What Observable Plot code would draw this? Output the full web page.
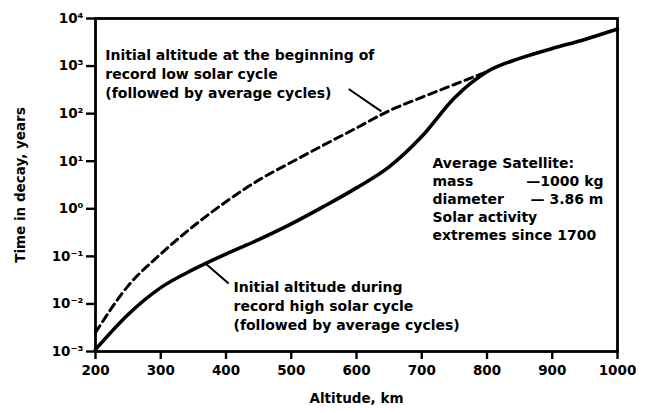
<!DOCTYPE html>
<html>
<head>
<meta charset="utf-8">
<script src="https://cdn.jsdelivr.net/npm/d3@7"></script>
<script src="https://cdn.jsdelivr.net/npm/@observablehq/plot@0.6"></script>
<style>
  html, body { margin: 0; padding: 0; background: #fff; }
  #chart { width: 646px; height: 413px; }
</style>
</head>
<body>
<div id="chart"></div>
<script>
// Solid curve: initial altitude during record high solar cycle
const highAltitudes = [200, 250, 300, 350, 400, 450, 500, 550, 600, 650, 700, 750, 800, 850, 900, 950, 1000];
const highSolarYears = [0.0011, 0.006, 0.022, 0.053, 0.112, 0.224, 0.48, 1.12, 2.75, 7.6, 33, 214, 760, 1450, 2340, 3630, 6000];

// Dashed curve: initial altitude at beginning of record low solar cycle (joins solid near 800 km)
const lowAltitudes = [200, 250, 300, 350, 400, 450, 500, 550, 600, 650, 700, 750, 800];
const lowSolarYears = [0.0025, 0.024, 0.112, 0.43, 1.41, 4.0, 9.5, 22, 50, 115, 220, 410, 760];

const xTicks = [200, 300, 400, 500, 600, 700, 800, 900, 1000];
const yTicks = [1e-3, 1e-2, 1e-1, 1e0, 1e1, 1e2, 1e3, 1e4];
const yTickLabels = ["10\u207B\u00B3", "10\u207B\u00B2", "10\u207B\u00B9", "10\u2070", "10\u00B9", "10\u00B2", "10\u00B3", "10\u2074"];

const lowNote = "Initial altitude at the beginning of\nrecord low solar cycle\n(followed by average cycles)";
const highNote = "Initial altitude during\nrecord high solar cycle\n(followed by average cycles)";
const satLabels = "Average Satellite:\nmass\ndiameter\nSolar activity\nextremes since 1700";
const satValues = "\u20141000 kg\n\u2014 3.86 m";

const high = highAltitudes.map((a, i) => ({alt: a, years: highSolarYears[i]}));
const low = lowAltitudes.map((a, i) => ({alt: a, years: lowSolarYears[i]}));

const font = "DejaVu Sans, Liberation Sans, sans-serif";
const note = {fontSize: 14, fontWeight: "bold", fill: "black", fontFamily: font};

const chart = Plot.plot({
  width: 646,
  height: 413,
  marginLeft: 95,
  marginRight: 29,
  marginTop: 18,
  marginBottom: 62,
  style: {fontFamily: font, fontSize: "13px", fontWeight: "bold", color: "black", background: "white"},
  x: {domain: [200, 1000]},
  y: {type: "log", domain: [1e-3, 1e4]},
  marks: [
    Plot.frame({stroke: "black", strokeWidth: 2.8}),
    Plot.axisX({
      ticks: xTicks, tickSize: 8, tickPadding: 6, tickFormat: d => String(d),
      stroke: "black", strokeWidth: 2.4, fontSize: 13.5,
      label: "Altitude, km", labelAnchor: "center", labelArrow: false, labelOffset: 51
    }),
    Plot.axisY({
      ticks: yTicks, tickSize: 9, tickPadding: 3,
      tickFormat: d => yTickLabels[yTicks.indexOf(d)],
      stroke: "black", strokeWidth: 2.4, fontSize: 13.5,
      label: "Time in decay, years", labelAnchor: "center", labelArrow: false, labelOffset: 80
    }),
    Plot.line(low, {x: "alt", y: "years", curve: "monotone-x", stroke: "black", strokeWidth: 3, strokeDasharray: "8,5"}),
    Plot.line(high, {x: "alt", y: "years", curve: "monotone-x", stroke: "black", strokeWidth: 3.6}),
    // leader lines
    Plot.link([0], {x1: 588, y1: 330, x2: 638, y2: 112, stroke: "black", strokeWidth: 2}),
    Plot.link([0], {x1: 369, y1: 0.07, x2: 404, y2: 0.027, stroke: "black", strokeWidth: 2}),
    // annotations
    Plot.text([lowNote], {x: 215, y: 2630, text: d => d, textAnchor: "start", lineAnchor: "top", lineHeight: 1.357, ...note}),
    Plot.text([highNote], {x: 411.5, y: 0.0344, text: d => d, textAnchor: "start", lineAnchor: "top", lineHeight: 1.357, ...note}),
    Plot.text([satLabels], {x: 716.5, y: 13.4, text: d => d, textAnchor: "start", lineAnchor: "top", lineHeight: 1.286, ...note}),
    Plot.text([satValues], {x: 978.5, y: 5.58, text: d => d, textAnchor: "end", lineAnchor: "top", lineHeight: 1.286, ...note})
  ]
});

document.getElementById("chart").appendChild(chart);
</script>
</body>
</html>
